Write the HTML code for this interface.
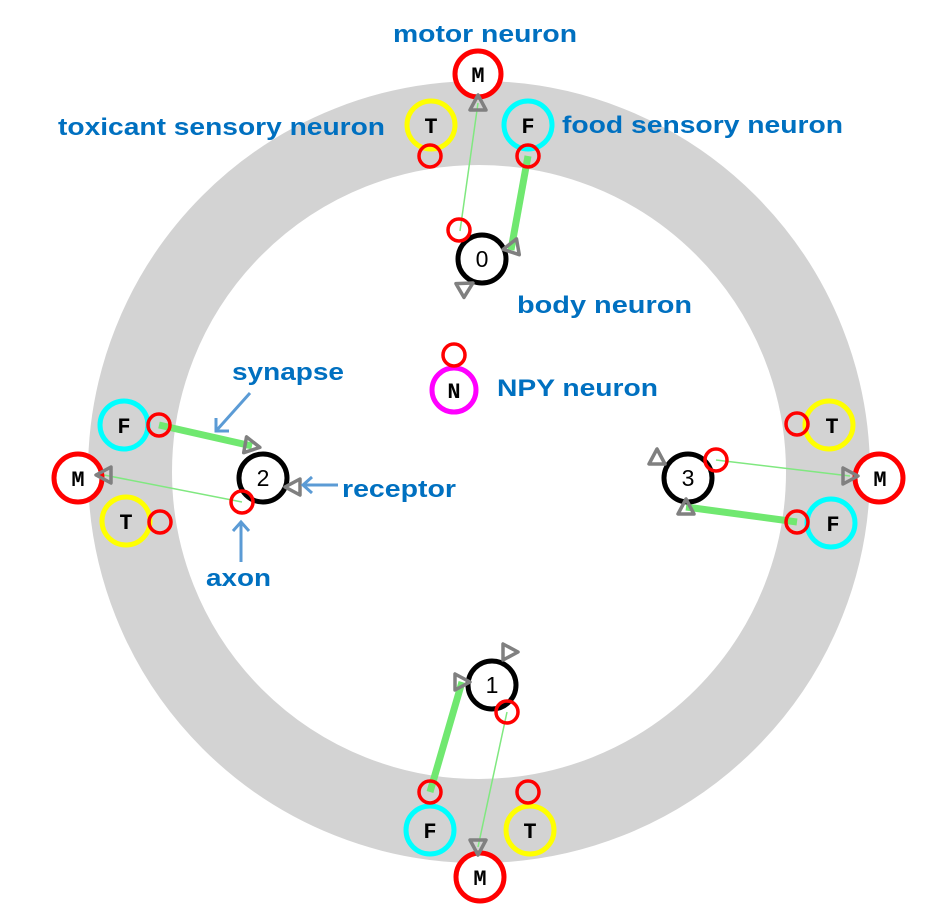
<!DOCTYPE html>
<html><head><meta charset="utf-8"><style>
html,body{margin:0;padding:0;background:#fff;}
svg{display:block;}
.lb{font-family:"Liberation Sans",sans-serif;font-weight:bold;font-size:24px;fill:#0070C0;}
.nl{font-family:"Liberation Mono",monospace;font-weight:bold;font-size:22px;fill:#000;text-anchor:middle;}
.num{font-family:"Liberation Sans",sans-serif;font-size:23px;fill:#000;text-anchor:middle;}
.tri{fill:none;stroke:#808080;stroke-width:3.5;stroke-linejoin:round;}
.thin{stroke:#80e880;stroke-width:1.5;}
.thick{stroke:#70e870;stroke-width:7;}
.ax{fill:none;stroke:#ff0000;stroke-width:3.5;}
.arr{stroke:#5B9BD5;stroke-width:3;fill:none;}
</style></head><body>
<svg width="932" height="919" viewBox="0 0 932 919">
<circle cx="479" cy="472" r="349" fill="none" stroke="#d3d3d3" stroke-width="84"/>

<line class="thin" x1="460" y1="231" x2="478" y2="103"/>
<line class="thick" x1="528" y1="156" x2="511" y2="250"/>
<line class="thick" x1="159" y1="425" x2="252" y2="446"/>
<line class="thin" x1="242" y1="502" x2="104" y2="475"/>
<line class="thin" x1="716" y1="460" x2="850" y2="476"/>
<line class="thick" x1="797" y1="522" x2="686" y2="507"/>
<line class="thick" x1="430" y1="792" x2="462" y2="682"/>
<line class="thin" x1="507" y1="712" x2="478" y2="847"/>

<circle cx="478" cy="74" r="23" fill="#fff" stroke="#ff0000" stroke-width="5"/><text class="nl" x="478" y="82">M</text>
<circle cx="431" cy="125" r="24" fill="none" stroke="#ffff00" stroke-width="5"/><text class="nl" x="431" y="133">T</text>
<circle cx="528" cy="125" r="24" fill="none" stroke="#00ffff" stroke-width="5"/><text class="nl" x="528" y="133">F</text>
<circle class="ax" cx="430" cy="156" r="11"/>
<circle class="ax" cx="528" cy="156" r="11"/>
<circle cx="482" cy="259" r="24" fill="none" stroke="#000" stroke-width="5"/><text class="num" x="482" y="267">0</text>
<circle class="ax" cx="459" cy="230" r="11"/>

<circle cx="124" cy="425" r="24" fill="none" stroke="#00ffff" stroke-width="5"/><text class="nl" x="124" y="433">F</text>
<circle cx="78" cy="478" r="24" fill="#fff" stroke="#ff0000" stroke-width="5"/><text class="nl" x="78" y="486">M</text>
<circle cx="126" cy="521" r="24" fill="none" stroke="#ffff00" stroke-width="5"/><text class="nl" x="126" y="529">T</text>
<circle class="ax" cx="159" cy="425" r="11"/>
<circle class="ax" cx="160" cy="522" r="11"/>
<circle cx="263" cy="478" r="24" fill="none" stroke="#000" stroke-width="5"/><text class="num" x="263" y="486">2</text>
<circle class="ax" cx="242" cy="502" r="11"/>

<circle cx="829" cy="425" r="24" fill="none" stroke="#ffff00" stroke-width="5"/><text class="nl" x="832" y="433">T</text>
<circle cx="879" cy="478" r="24" fill="#fff" stroke="#ff0000" stroke-width="5"/><text class="nl" x="880" y="486">M</text>
<circle cx="831" cy="523" r="24" fill="none" stroke="#00ffff" stroke-width="5"/><text class="nl" x="833" y="531">F</text>
<circle class="ax" cx="797" cy="424" r="11"/>
<circle class="ax" cx="797" cy="522" r="11"/>
<circle cx="688" cy="478" r="24" fill="none" stroke="#000" stroke-width="5"/><text class="num" x="688" y="486">3</text>
<circle class="ax" cx="716" cy="460" r="11"/>

<circle cx="430" cy="830" r="24" fill="none" stroke="#00ffff" stroke-width="5"/><text class="nl" x="430" y="838">F</text>
<circle cx="530" cy="830" r="24" fill="none" stroke="#ffff00" stroke-width="5"/><text class="nl" x="530" y="838">T</text>
<circle cx="480" cy="877" r="24" fill="#fff" stroke="#ff0000" stroke-width="5"/><text class="nl" x="480" y="885">M</text>
<circle class="ax" cx="430" cy="792" r="11"/>
<circle class="ax" cx="528" cy="792" r="11"/>
<circle cx="492" cy="685" r="24" fill="none" stroke="#000" stroke-width="5"/><text class="num" x="492" y="693">1</text>
<circle class="ax" cx="507" cy="712" r="11"/>

<circle cx="454" cy="390" r="22" fill="none" stroke="#ff00ff" stroke-width="5"/><text class="nl" x="454" y="398">N</text>
<circle class="ax" cx="454" cy="355" r="11"/>

<g class="tri">
<polygon points="-7,-8 -7,8 8,0" transform="translate(478,103) rotate(-90)"/>
<polygon points="-7,-8 -7,8 8,0" transform="translate(511,248) rotate(170)"/>
<polygon points="-7,-8 -7,8 8,0" transform="translate(466,287) rotate(-30)"/>
<polygon points="-7,-8 -7,8 8,0" transform="translate(252,446) rotate(10)"/>
<polygon points="-7,-8 -7,8 8,0" transform="translate(293,487) rotate(180)"/>
<polygon points="-7,-8 -7,8 8,0" transform="translate(104,475) rotate(180)"/>
<polygon points="-7,-8 -7,8 8,0" transform="translate(657,457) rotate(-90)"/>
<polygon points="-7,-8 -7,8 8,0" transform="translate(686,507) rotate(-90)"/>
<polygon points="-7,-8 -7,8 8,0" transform="translate(850,476) rotate(0)"/>
<polygon points="-7,-8 -7,8 8,0" transform="translate(462,682) rotate(0)"/>
<polygon points="-7,-8 -7,8 8,0" transform="translate(510,652) rotate(0)"/>
<polygon points="-7,-8 -7,8 8,0" transform="translate(478,847) rotate(90)"/>
</g>

<g class="arr">
<line x1="250" y1="393" x2="216" y2="431"/><polyline points="216,418 216,431 229,431"/>
<line x1="338" y1="485" x2="303" y2="485"/><polyline points="312,477 303,485 312,493"/>
<line x1="241" y1="562" x2="241" y2="522"/><polyline points="233,531 241,522 249,531"/>
</g>

<text class="lb" x="393" y="42" textLength="184" lengthAdjust="spacingAndGlyphs">motor neuron</text>
<text class="lb" x="58" y="135" textLength="327" lengthAdjust="spacingAndGlyphs">toxicant sensory neuron</text>
<text class="lb" x="562" y="133" textLength="281" lengthAdjust="spacingAndGlyphs">food sensory neuron</text>
<text class="lb" x="517" y="313" textLength="175" lengthAdjust="spacingAndGlyphs">body neuron</text>
<text class="lb" x="497" y="396" textLength="161" lengthAdjust="spacingAndGlyphs">NPY neuron</text>
<text class="lb" x="232" y="380" textLength="112" lengthAdjust="spacingAndGlyphs">synapse</text>
<text class="lb" x="342" y="497" textLength="114" lengthAdjust="spacingAndGlyphs">receptor</text>
<text class="lb" x="206" y="586" textLength="65" lengthAdjust="spacingAndGlyphs">axon</text>
</svg>
</body></html>
